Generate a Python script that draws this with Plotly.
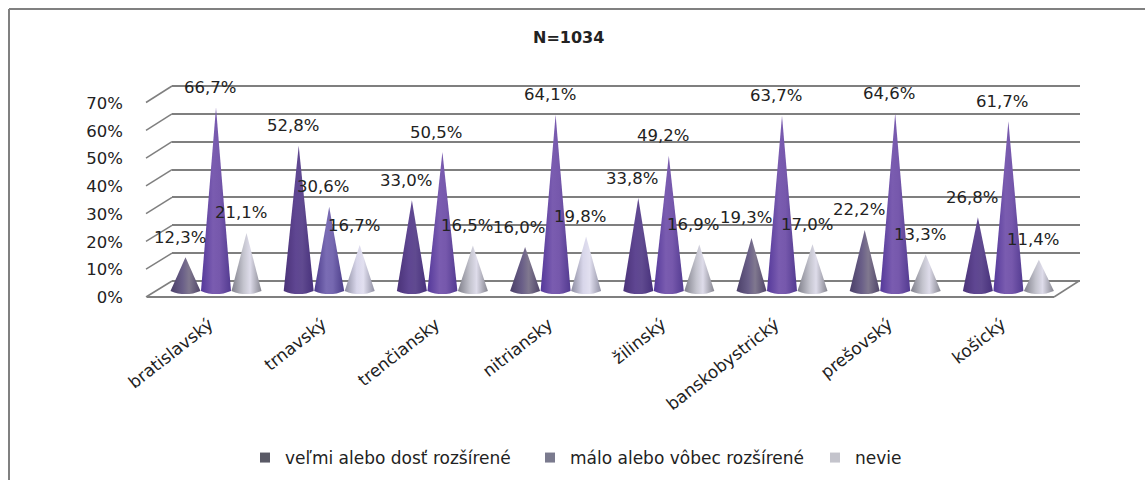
import plotly.graph_objects as go

categories = ["bratislavský", "trnavský", "trenčiansky", "nitriansky", "žilinský",
              "banskobystrický", "prešovský", "košický"]
velmi = [12.3, 52.8, 33.0, 16.0, 33.8, 19.3, 22.2, 26.8]
malo = [66.7, 30.6, 50.5, 64.1, 49.2, 63.7, 64.6, 61.7]
nevie = [21.1, 16.7, 16.5, 19.8, 16.9, 17.0, 13.3, 11.4]
series_names = ["veľmi alebo dosť rozšírené", "málo alebo vôbec rozšírené", "nevie"]
y_ticks = [0, 10, 20, 30, 40, 50, 60, 70]

W, H = 1145, 480
FONT = "DejaVu Sans"
TXT = "#222222"
GRID = "#7f7f7f"

def fx(px): return px / W
def fy(py): return 1 - py / H

CX0, CSTEP = 216.0, 113.2
BASE_Y, SCALE = 291.0, 2.75
OFF = 30.5 / CSTEP
HALF = 15.0 / CSTEP
BULGE = 1.2
LABEL_SHIFT = 0.06
WALL = 195 / 70  # pixels per percent on the back wall

GREY_DARK = ["#4a3f68", "#6a5f88", "#80788f", "#4f4468"]
DEEP = ["#4a3278", "#5f4692", "#604a90", "#46307a"]
MID = ["#54389a", "#7a5cb0", "#7658ac", "#523a90"]
BLUE = ["#4a3a8a", "#7a6cb4", "#7668b0", "#4a3c88"]
PALE = ["#7f7f8a", "#c4c4ce", "#dedcea", "#85858f"]
LILAC = ["#8c8ca0", "#d8d6ea", "#e2e0f0", "#8f8fa2"]

left_styles = [GREY_DARK, DEEP, DEEP, GREY_DARK, DEEP, GREY_DARK, GREY_DARK, DEEP]
mid_styles = [MID, BLUE, MID, MID, MID, MID, MID, MID]
right_styles = [PALE, LILAC, PALE, LILAC, PALE, PALE, PALE, PALE]
legend_cols = ["#5a5a66", "#7a7a8e", "#c4c4cc"]

fig = go.Figure()

# empty traces so that the back wall and the front plane axes get drawn
fig.add_trace(go.Scatter(x=[None], y=[None], xaxis="x", yaxis="y", showlegend=False, hoverinfo="skip"))
fig.add_trace(go.Scatter(x=[None], y=[None], xaxis="x2", yaxis="y2", showlegend=False, hoverinfo="skip"))

# cones
for s, (vals, styles) in enumerate(zip([velmi, malo, nevie], [left_styles, mid_styles, right_styles])):
    for i, v in enumerate(vals):
        grad = styles[i]
        c = i + (s - 1) * OFF
        xs = [c - HALF, c, c + HALF]
        ys = [0, v, 0]
        for k in range(1, 8):
            t = k / 8
            xs.append(c + HALF * (1 - 2 * t))
            ys.append(-BULGE * (1 - (1 - 2 * t) ** 2))
        fig.add_trace(go.Scatter(
            x=xs, y=ys, xaxis="x3", yaxis="y3", mode="lines", fill="toself",
            line=dict(width=0), showlegend=False, hoverinfo="skip",
            fillgradient=dict(type="horizontal", colorscale=[
                [0, grad[0]], [0.4, grad[1]], [0.62, grad[2]], [1, grad[3]]]),
        ))

# legend keys
for name, col in zip(series_names, legend_cols):
    fig.add_trace(go.Scatter(
        x=[None], y=[None], xaxis="x3", yaxis="y3", mode="markers", name=name,
        marker=dict(symbol="square", size=10, color=col),
    ))

annotations = []
for s, vals in enumerate([velmi, malo, nevie]):
    for i, v in enumerate(vals):
        annotations.append(dict(
            x=i + (s - 1) * OFF, y=v, xref="x3", yref="y3", showarrow=False,
            text=f"{v:.1f}%".replace(".", ","), xshift=-6, yshift=20,
            font=dict(family=FONT, size=16.5, color=TXT),
        ))
annotations.append(dict(
    x=fx(568), y=fy(37), xref="paper", yref="paper", showarrow=False, yanchor="middle",
    text="<b>N=1034</b>", font=dict(family=FONT, size=16, color=TXT),
))

shapes = [
    dict(type="line", xref="paper", yref="paper", x0=fx(9), x1=fx(9), y0=0, y1=fy(9),
         line=dict(color="#808080", width=2)),
    dict(type="line", xref="paper", yref="paper", x0=fx(9), x1=1, y0=fy(9), y1=fy(9),
         line=dict(color="#808080", width=2)),
    dict(type="line", xref="paper", yref="paper", x0=fx(147), x1=fx(1054), y0=fy(297), y1=fy(297),
         line=dict(color=GRID, width=2)),
    dict(type="line", xref="paper", yref="paper", x0=fx(1054), x1=fx(1079), y0=fy(297), y1=fy(281),
         line=dict(color=GRID, width=1.5)),
]
for t in y_ticks:
    p = t / 70
    front = 297 - p * 194.5
    back = 281 - p * 195
    shapes.append(dict(type="line", xref="paper", yref="paper", x0=fx(146), x1=fx(172),
                       y0=fy(front), y1=fy(back), line=dict(color=GRID, width=1.5)))

fig.update_layout(
    width=W, height=H, margin=dict(l=0, r=0, t=0, b=0, autoexpand=False),
    paper_bgcolor="white", plot_bgcolor="rgba(0,0,0,0)",
    font=dict(family=FONT, color=TXT),
    annotations=annotations, shapes=shapes,
    # back wall with gridlines
    xaxis=dict(domain=[fx(172), fx(1080)], range=[0, 1], visible=False),
    yaxis=dict(domain=[fy(281 + 2 * WALL), fy(86 - 2 * WALL)], range=[-2, 72], tickvals=y_ticks,
               showticklabels=False, showgrid=True, gridcolor=GRID, gridwidth=2, zeroline=False,
               ticks="", showline=False),
    # front plane with tick labels
    xaxis2=dict(domain=[fx(146), fx(1054)], range=[0, 1], visible=False, anchor="y2"),
    yaxis2=dict(domain=[fy(297.5), fy(103)], range=[0, 70], anchor="free", position=fx(123),
                tickvals=y_ticks, ticktext=[f"{t}%" for t in y_ticks],
                tickfont=dict(family=FONT, size=16.5, color=TXT),
                showgrid=False, zeroline=False, ticks="", showline=False),
    # cone plane with categories
    xaxis3=dict(domain=[0, 1], range=[-CX0 / CSTEP, (W - CX0) / CSTEP], anchor="free",
                position=fy(297), tickvals=[i - LABEL_SHIFT for i in range(8)], ticktext=categories,
                tickangle=-38, tickfont=dict(family=FONT, size=17, color=TXT), ticks="outside",
                ticklen=10, tickcolor="rgba(0,0,0,0)", showgrid=False, zeroline=False, showline=False),
    yaxis3=dict(domain=[0, 1], range=[(BASE_Y - H) / SCALE, BASE_Y / SCALE], anchor="x3",
                visible=False),
    legend=dict(orientation="h", x=fx(245), y=fy(458), xanchor="left", yanchor="middle",
                font=dict(family=FONT, size=17, color=TXT), entrywidth=240,
                entrywidthmode="pixels", bgcolor="rgba(0,0,0,0)", itemclick=False),
)

fig.write_html("out.html", config=dict(displayModeBar=False),
               post_script="document.body.style.margin='0';")
